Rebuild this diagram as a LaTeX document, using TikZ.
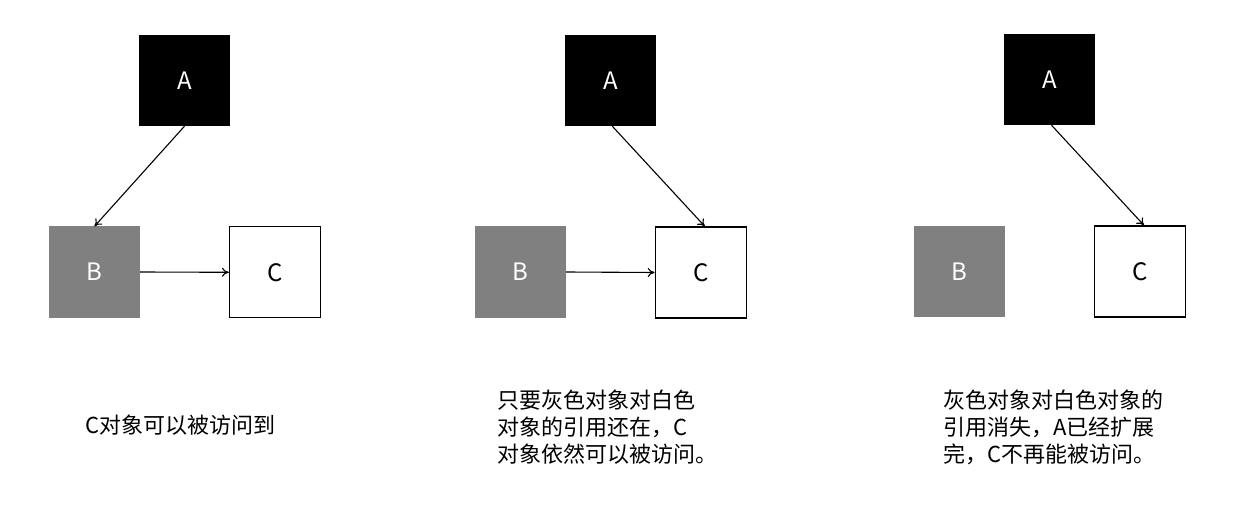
\documentclass[tikz,border=0pt]{standalone}
\usepackage{fontspec}
\setmainfont{Noto Sans CJK SC}
\usetikzlibrary{arrows.meta}
\begin{document}
\begin{tikzpicture}[x=1pt,y=-1pt,
  box/.style={minimum width=91pt,minimum height=91pt,inner sep=0pt,font=\fontsize{24}{28}\selectfont},
  blackbox/.style={box,fill=black,text=white},
  graybox/.style={box,fill=gray,text=white},
  whitebox/.style={box,draw=black,line width=1.3pt,fill=white,text=black},
  ref/.style={line width=1.1pt,-{To[length=7pt,width=9pt]}},
  caption/.style={anchor=west,align=left,inner sep=0pt,font=\fontsize{22}{27}\selectfont}]
\useasboundingbox (0,0) rectangle (1239,521);
% panel 1
\node[blackbox] (A1) at (184.5,80.5) {A};
\node[graybox] (B1) at (94.5,272) {B};
\node[whitebox] (C1) at (275,272.3) {C};
\draw[ref] (A1.south) -- (B1.north);
\draw[ref] (B1.east) -- (C1.west);
\node[caption] (T1) at (85,425) {C对象可以被访问到};
% panel 2
\node[blackbox] (A2) at (610.3,80.5) {A};
\node[graybox] (B2) at (520.5,272) {B};
\node[whitebox] (C2) at (700.8,272.5) {C};
\draw[ref] ([xshift=2pt]A2.south) -- ([xshift=4pt]C2.north);
\draw[ref] (B2.east) -- (C2.west);
\node[caption] (T2) at (497,427) {只要灰色对象对白色\\对象的引用还在，C\\对象依然可以被访问。};
% panel 3
\node[blackbox] (A3) at (1049.5,79.5) {A};
\node[graybox] (B3) at (959.5,271.3) {B};
\node[whitebox] (C3) at (1140,271.5) {C};
\draw[ref] ([xshift=2pt]A3.south) -- ([xshift=4pt]C3.north);
\node[caption] (T3) at (943,427) {灰色对象对白色对象的\\引用消失，A已经扩展\\完，C不再能被访问。};
\end{tikzpicture}
\end{document}
